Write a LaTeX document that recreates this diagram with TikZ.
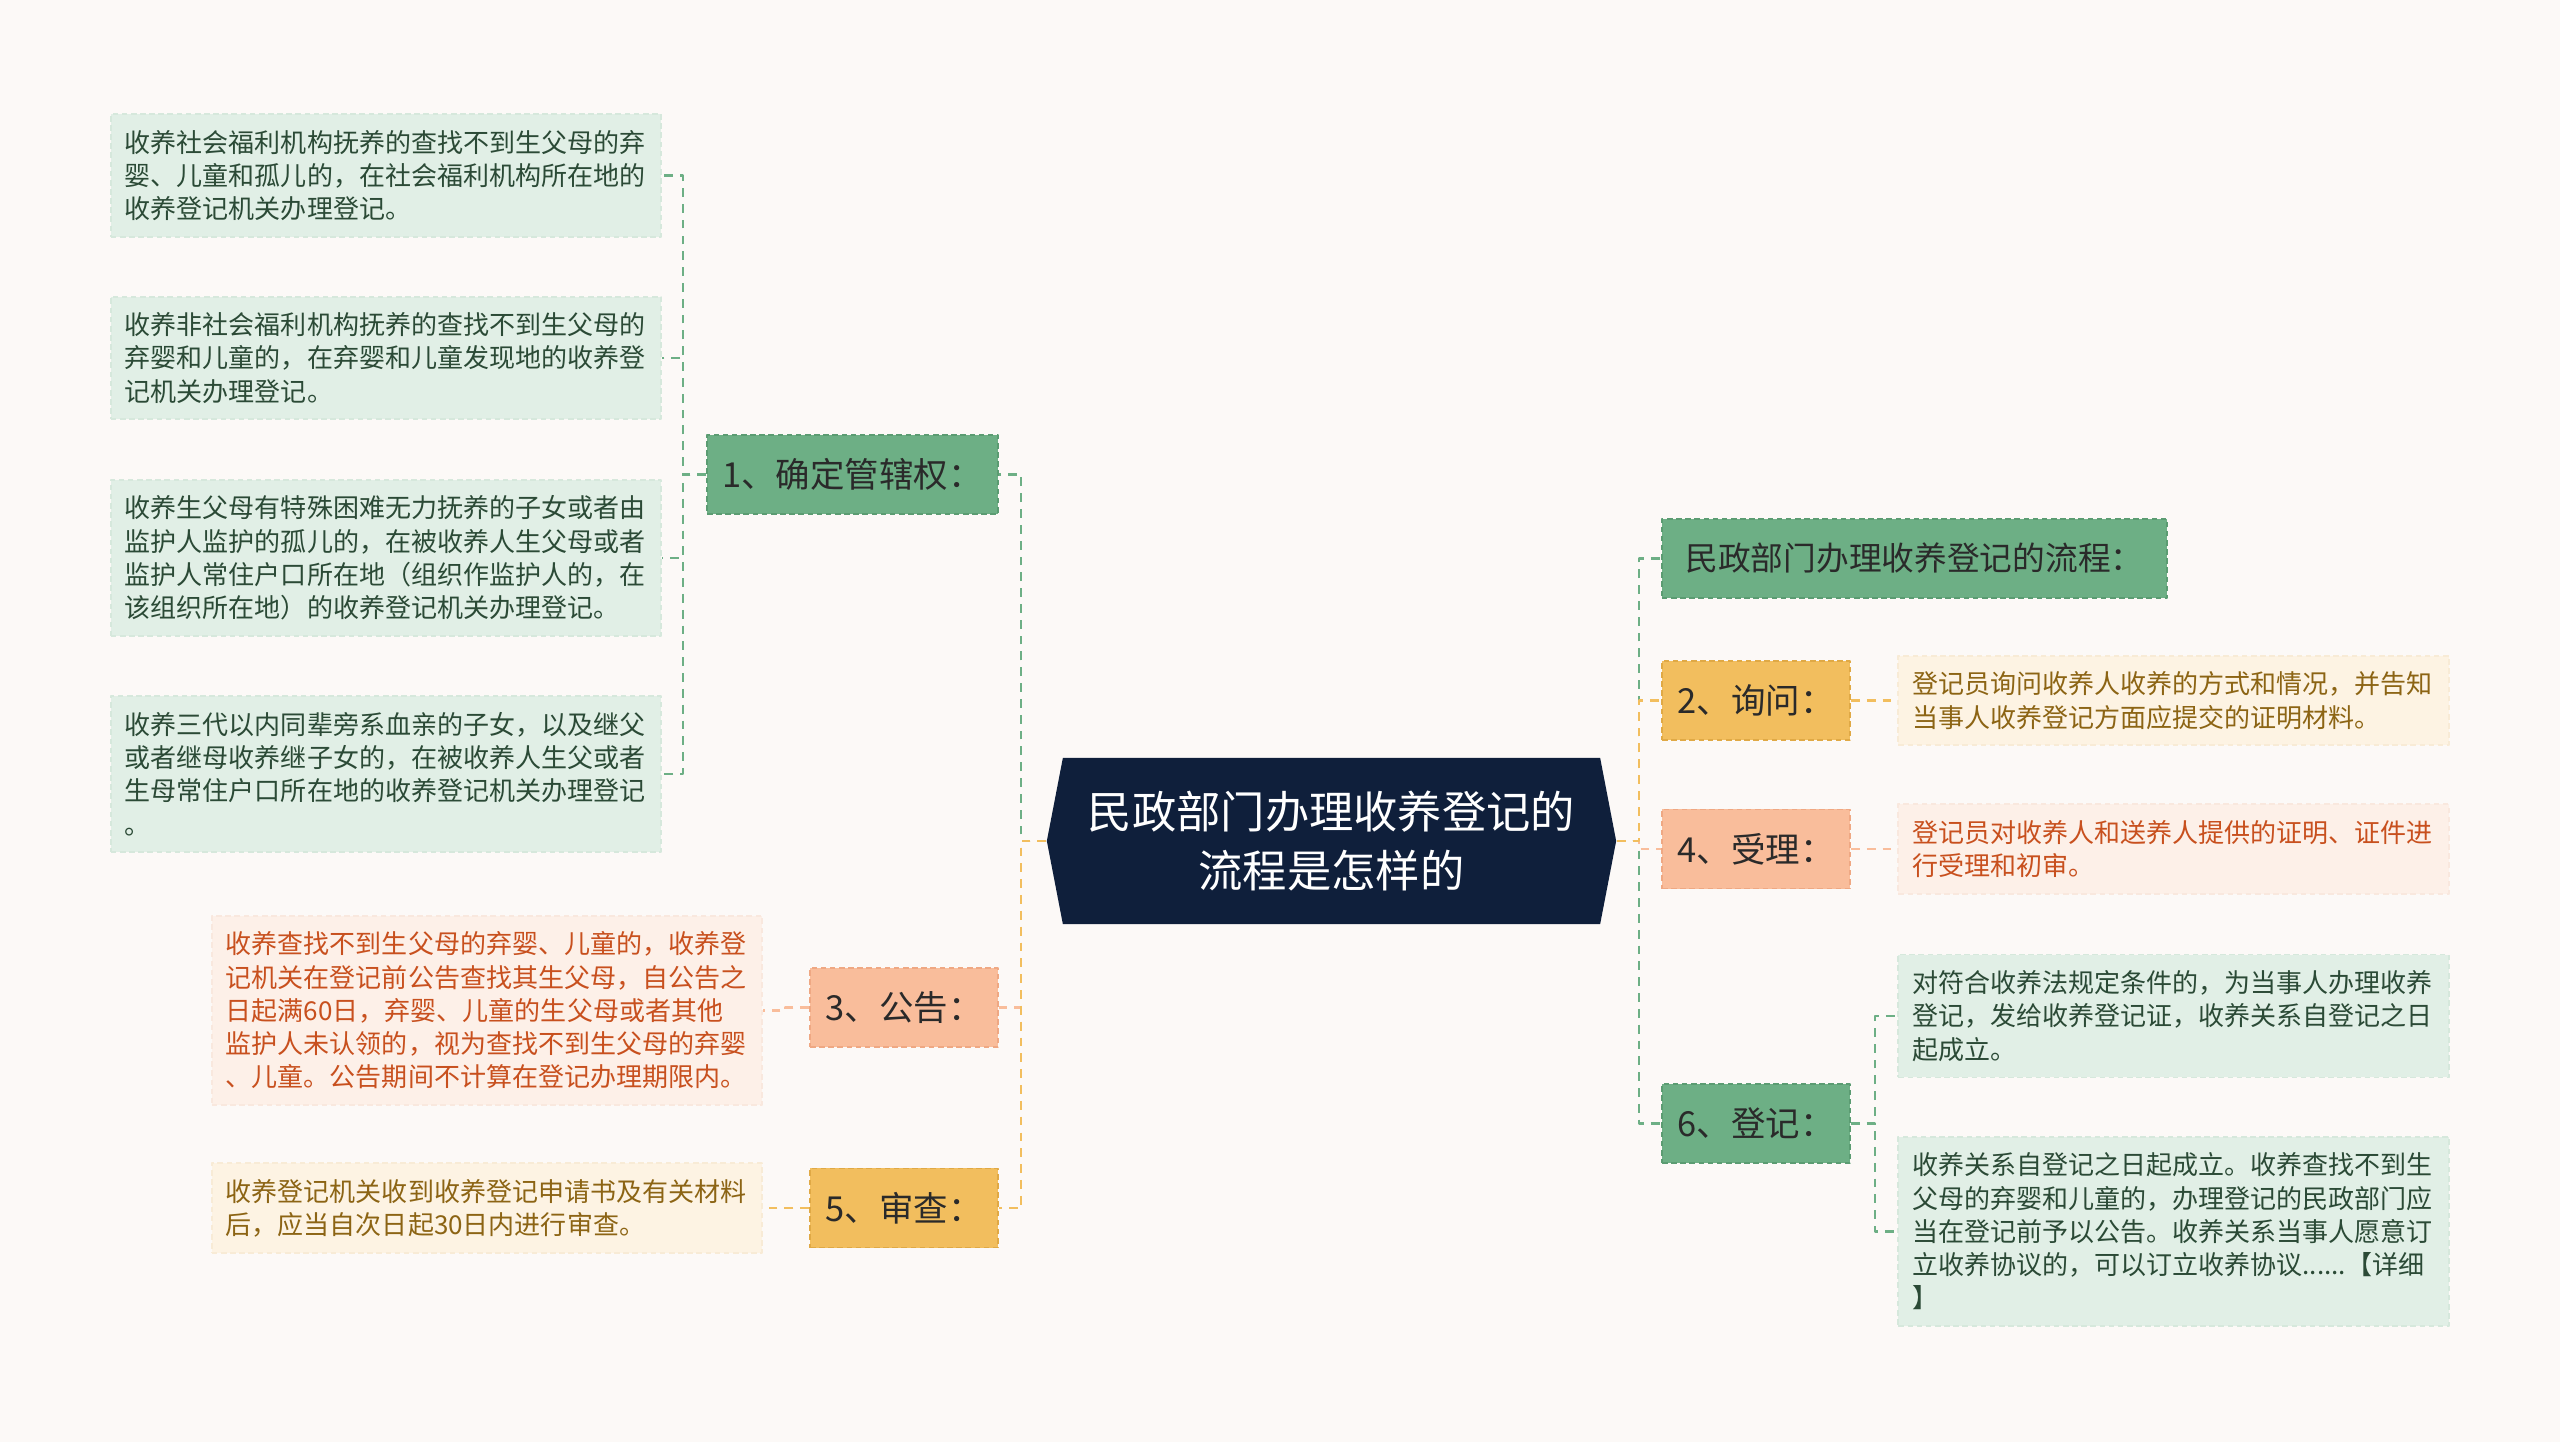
\documentclass[tikz,border=0pt]{standalone}
\usepackage{fontspec}
\newfontfamily\cjk{Noto Sans CJK SC}
\definecolor{bg}{HTML}{FCF9F7}
\definecolor{rootfill}{HTML}{0F1F3B}
\definecolor{grn}{HTML}{6DAF85}
\definecolor{grnline}{HTML}{5B9C72}
\definecolor{grnleaf}{HTML}{E1EFE6}
\definecolor{grnleafline}{HTML}{D6E8DC}
\definecolor{grntext}{HTML}{2B4A36}
\definecolor{gld}{HTML}{F2BE5E}
\definecolor{gldline}{HTML}{E0A945}
\definecolor{gldleaf}{HTML}{FDF3E3}
\definecolor{gldleafline}{HTML}{F8EBD6}
\definecolor{gldtext}{HTML}{8C6414}
\definecolor{slm}{HTML}{F9BD9B}
\definecolor{slmline}{HTML}{EFA883}
\definecolor{slmleaf}{HTML}{FDF0E8}
\definecolor{slmleafline}{HTML}{F9E8DE}
\definecolor{slmtext}{HTML}{C8501E}
\definecolor{dark}{HTML}{2A2A2A}
\begin{document}
\begin{tikzpicture}[x=0.01cm, y=-0.01cm, line join=round,
	root/.style={font=\cjk\fontsize{12.6pt}{16.8pt}\selectfont, text=white, align=center, minimum width=5.69cm, minimum height=1.66cm, inner sep=0pt, fill=bg,
		path picture={\fill[rootfill] (path picture bounding box.west) -- ([xshift=0.16cm]path picture bounding box.north west) -- ([xshift=-0.16cm]path picture bounding box.north east) -- (path picture bounding box.east) -- ([xshift=-0.16cm]path picture bounding box.south east) -- ([xshift=0.16cm]path picture bounding box.south west) -- cycle;}},
	box/.style={font=\cjk\fontsize{9.8pt}{12pt}\selectfont, text=dark, minimum width=1.88cm, minimum height=0.79cm, inner sep=0pt, line width=0.5pt, dash pattern=on 1.6pt off 1pt},
	grnbox/.style={box, fill=grn, draw=grnline},
	gldbox/.style={box, fill=gld, draw=gldline},
	slmbox/.style={box, fill=slm, draw=slmline},
	leaf/.style={font=\cjk\fontsize{7.4pt}{9.45pt}\selectfont, align=left, text width=5.22cm, inner xsep=0.14cm, inner ysep=0.16cm, line width=0.5pt, dash pattern=on 1.6pt off 1pt},
	grnleaf/.style={leaf, fill=grnleaf, draw=grnleafline, text=grntext},
	gldleaf/.style={leaf, fill=gldleaf, draw=gldleafline, text=gldtext},
	slmleaf/.style={leaf, fill=slmleaf, draw=slmleafline, text=slmtext},
	link/.style={line width=0.65pt, dash pattern=on 2.5pt off 2pt}]
	\fill[bg] (0,0) rectangle (2560,1442);
	% centre and branches
	\node[root] (root) at (1331.5,841) {民政部门办理收养登记的\\流程是怎样的};
	\node[grnbox, minimum width=2.91cm] (b1) at (852.5,474.5) {1、确定管辖权：};
	\node[slmbox] (b3) at (904,1007.5) {3、公告：};
	\node[gldbox] (b5) at (904,1208) {5、审查：};
	\node[grnbox, minimum width=5.05cm, font=\cjk\fontsize{9.3pt}{12pt}\selectfont] (bR) at (1914.5,558.5) {民政部门办理收养登记的流程：};
	\node[gldbox] (b2) at (1756,700.5) {2、询问：};
	\node[slmbox] (b4) at (1756,849) {4、受理：};
	\node[grnbox] (b6) at (1756,1123.5) {6、登记：};
	% leaves
	\node[grnleaf] (l1a) at (386,175.5) {收养社会福利机构抚养的查找不到生父母的弃\\婴、儿童和孤儿的，在社会福利机构所在地的\\收养登记机关办理登记。};
	\node[grnleaf] (l1b) at (386,358) {收养非社会福利机构抚养的查找不到生父母的\\弃婴和儿童的，在弃婴和儿童发现地的收养登\\记机关办理登记。};
	\node[grnleaf] (l1c) at (386,558) {收养生父母有特殊困难无力抚养的子女或者由\\监护人监护的孤儿的，在被收养人生父母或者\\监护人常住户口所在地（组织作监护人的，在\\该组织所在地）的收养登记机关办理登记。};
	\node[grnleaf] (l1d) at (386,774) {收养三代以内同辈旁系血亲的子女，以及继父\\或者继母收养继子女的，在被收养人生父或者\\生母常住户口所在地的收养登记机关办理登记\\。};
	\node[slmleaf] (l3) at (487,1010.5) {收养查找不到生父母的弃婴、儿童的，收养登\\记机关在登记前公告查找其生父母，自公告之\\日起满60日，弃婴、儿童的生父母或者其他\\监护人未认领的，视为查找不到生父母的弃婴\\、儿童。公告期间不计算在登记办理期限内。};
	\node[gldleaf] (l5) at (487,1208) {收养登记机关收到收养登记申请书及有关材料\\后，应当自次日起30日内进行审查。};
	\node[gldleaf] (l2) at (2173.5,700.5) {登记员询问收养人收养的方式和情况，并告知\\当事人收养登记方面应提交的证明材料。};
	\node[slmleaf] (l4) at (2173.5,849) {登记员对收养人和送养人提供的证明、证件进\\行受理和初审。};
	\node[grnleaf] (l6a) at (2173.5,1016) {对符合收养法规定条件的，为当事人办理收养\\登记，发给收养登记证，收养关系自登记之日\\起成立。};
	\node[grnleaf] (l6b) at (2173.5,1231.5) {收养关系自登记之日起成立。收养查找不到生\\父母的弃婴和儿童的，办理登记的民政部门应\\当在登记前予以公告。收养关系当事人愿意订\\立收养协议的，可以订立收养协议......【详细\\】};
	% connectors
	\draw[link, draw=grn] (root.west) -- ++(-25,0) |- (b1.east);
	\draw[link, draw=slm] (root.west) -- ++(-25,0) |- (b3.east);
	\draw[link, draw=gld] (root.west) -- ++(-25,0) |- (b5.east);
	\draw[link, draw=grn] (root.east) -- ++(22,0) |- (bR.west);
	\draw[link, draw=grn] (root.east) -- ++(22,0) |- (b6.west);
	\draw[link, draw=slm] (root.east) -- ++(22,0) |- (b4.west);
	\draw[link, draw=gld] (root.east) -- ++(22,0) |- (b2.west);
	\foreach \n in {l1a,l1b,l1c,l1d} \draw[link, draw=grn] (b1.west) -- ++(-23,0) |- (\n.east);
	\draw[link, draw=slm] (b3.west) -- ++(-24,0) |- (l3.east);
	\draw[link, draw=gld] (b5.west) -- ++(-24,0) |- (l5.east);
	\draw[link, draw=gld] (b2.east) -- ++(24,0) |- (l2.west);
	\draw[link, draw=slm] (b4.east) -- ++(24,0) |- (l4.west);
	\foreach \n in {l6a,l6b} \draw[link, draw=grn] (b6.east) -- ++(24,0) |- (\n.west);
\end{tikzpicture}
\end{document}
